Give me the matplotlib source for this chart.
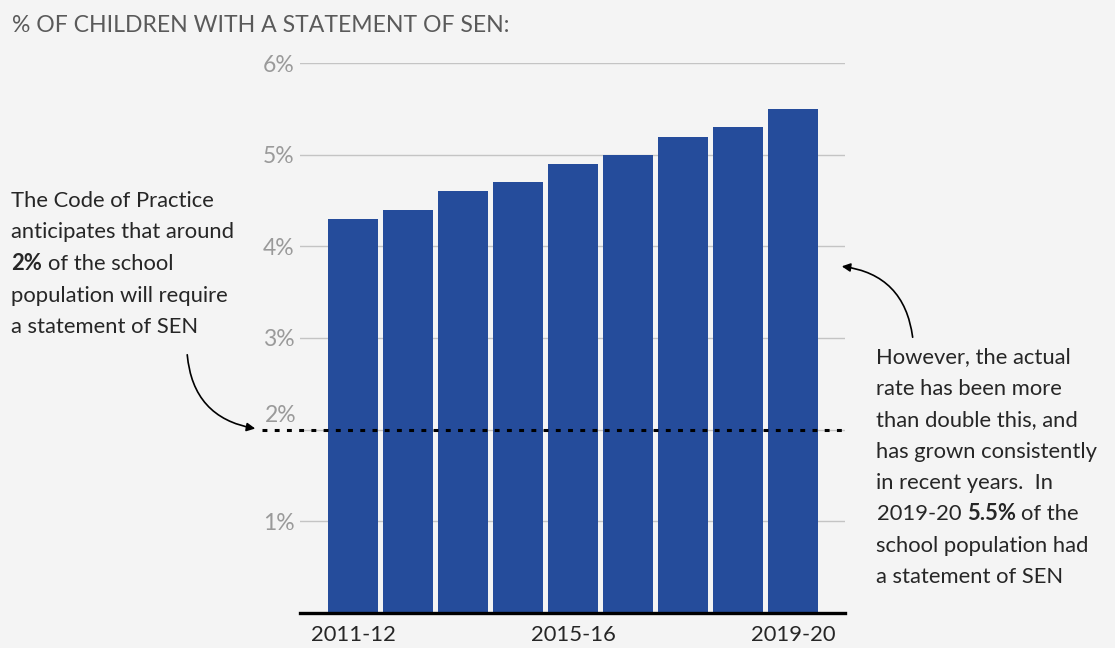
import matplotlib.pyplot as plt
from matplotlib.patches import FancyArrowPatch

years = ["2011-12", "2012-13", "2013-14", "2014-15", "2015-16",
         "2016-17", "2017-18", "2018-19", "2019-20"]
pct_sen = [4.3, 4.4, 4.6, 4.7, 4.9, 5.0, 5.2, 5.3, 5.5]
expected_pct = 2.0
y_ticks = [1, 2, 3, 4, 5, 6]
shown_years = [0, 4, 8]

W, H = 1115, 648
BG = "#f4f4f4"
BLUE = "#254c9b"
TXT = "#262626"
FONT = "Lato"
BODY = 15.8

plt.rcParams["font.family"] = [FONT, "DejaVu Sans"]

fig = plt.figure(figsize=(W / 100, H / 100), dpi=100, facecolor=BG)
ax = fig.add_axes([300 / W, (H - 612.7) / H, 545 / W, (612.7 - 63.3) / H])
ax.set_facecolor(BG)

xs = list(range(len(years)))
ax.bar(xs, pct_sen, width=50 / 55, color=BLUE, zorder=2)
ax.set_xlim(-53 / 55, 8 + 52 / 55)
ax.set_ylim(0, 6)

for s in ["top", "right", "left"]:
    ax.spines[s].set_visible(False)
ax.spines["bottom"].set_color("black")
ax.spines["bottom"].set_linewidth(2.4)
ax.spines["bottom"].set_zorder(3)

ax.set_yticks(y_ticks)
ax.set_yticklabels([f"{v}%" if v != 2 else "" for v in y_ticks])
ax.tick_params(axis="y", length=0, pad=4, labelsize=16.5, labelcolor="#9a9a9a")
ax.grid(axis="y", color="#c4c4c4", linewidth=1)
ax.set_axisbelow(True)

ax.set_xticks(shown_years)
ax.set_xticklabels([years[i] for i in shown_years])
ax.tick_params(axis="x", length=0, pad=9, labelsize=15.8, labelcolor=TXT)

# the 2% label sits a bit above its line
fig.text(296 / W, 1 - 415 / H, "2%", ha="right", va="center",
         fontsize=16.5, color="#9a9a9a")

# expected 2% line
ax.axhline(expected_pct, xmin=-(300 - 262) / 545, xmax=1, clip_on=False,
           color="black", linewidth=2.2, linestyle=(0, (1.6, 2.4)), zorder=4)

fig.text(12 / W, 1 - 32 / H, "% OF CHILDREN WITH A STATEMENT OF SEN:",
         fontsize=16.6, color="#5a5a5a", va="baseline")

renderer = fig.canvas.get_renderer()


def width_px(s, weight):
    t = fig.text(0, 0, s, fontsize=BODY, fontweight=weight)
    w = t.get_window_extent(renderer).width
    t.remove()
    return w


space = width_px("a a", "normal") - width_px("aa", "normal")


def rich_line(x, y, parts):
    for s, weight in parts:
        fig.text(x / W, 1 - y / H, s, fontsize=BODY, fontweight=weight,
                 color=TXT, va="baseline")
        x += width_px(s, weight) + space


left_lines = [
    [("The Code of Practice", "normal")],
    [("anticipates that around", "normal")],
    [("2%", "bold"), ("of the school", "normal")],
    [("population will require", "normal")],
    [("a statement of SEN", "normal")],
]
for i, parts in enumerate(left_lines):
    rich_line(11, 207 + i * 31.5, parts)

right_lines = [
    [("However, the actual", "normal")],
    [("rate has been more", "normal")],
    [("than double this, and", "normal")],
    [("has grown consistently", "normal")],
    [("in recent years.  In", "normal")],
    [("2019-20", "normal"), ("5.5%", "bold"), ("of the", "normal")],
    [("school population had", "normal")],
    [("a statement of SEN", "normal")],
]
for i, parts in enumerate(right_lines):
    rich_line(876.5, 363.3 + i * 31.4, parts)


def px(x, y):
    return (x / W, 1 - y / H)


for start, end in [((187, 352), (258, 429)), ((913, 340), (839, 266))]:
    arr = FancyArrowPatch(px(*start), px(*end), transform=fig.transFigure,
                          connectionstyle="arc3,rad=0.4",
                          arrowstyle="-|>,head_length=5,head_width=2.5",
                          color="black", linewidth=1.2)
    fig.patches.append(arr)

fig.savefig("out.png", dpi=100, facecolor=BG)
